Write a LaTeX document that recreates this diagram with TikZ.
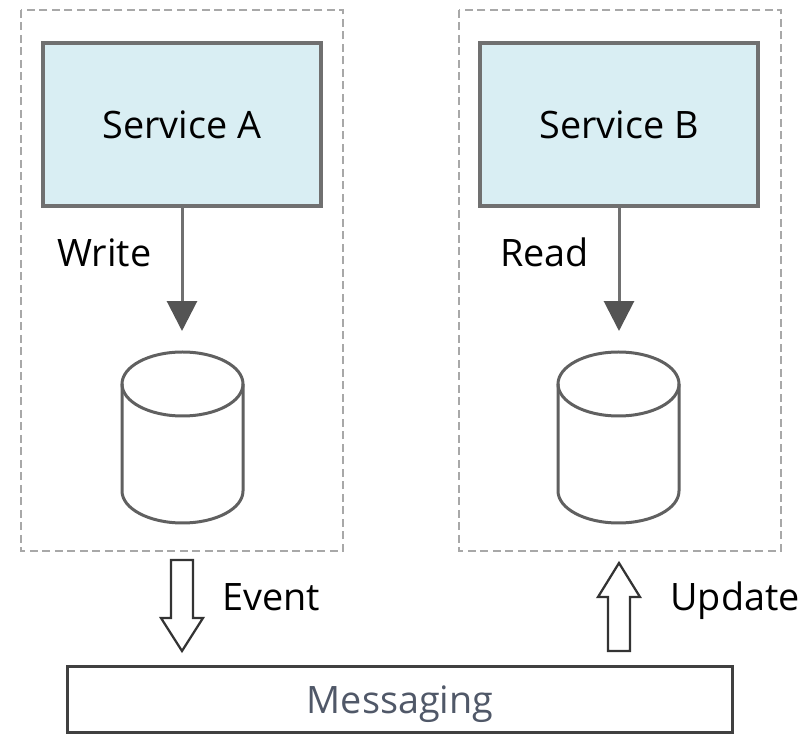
\documentclass[tikz,border=0pt]{standalone}
\usepackage{fontspec}
\setmainfont{Open Sans}
\usetikzlibrary{positioning, arrows.meta}

\definecolor{svcfill}{RGB}{217,238,243}
\definecolor{svcline}{RGB}{112,112,112}
\definecolor{zoneline}{RGB}{168,168,168}
\definecolor{dbline}{RGB}{96,96,96}
\definecolor{msgtext}{RGB}{80,88,104}

\tikzset{
  dbcyl/.pic={
    \draw[dbline, line width=0.06cm] (-60.5,0) -- (-60.5,107)
      arc[start angle=180, end angle=0, x radius=60.5, y radius=32] -- (60.5,0);
    \draw[dbline, line width=0.06cm] (0,0) ellipse [x radius=60.5, y radius=32];
  }
}

\begin{document}
\begin{tikzpicture}[x=0.02cm, y=-0.02cm,
  font=\fontsize{21.5}{25}\selectfont,
  zone/.style={draw=zoneline, line width=0.055cm, dash pattern=on 0.16cm off 0.09cm},
  svc/.style={draw=svcline, fill=svcfill, line width=0.07cm,
    minimum width=5.56cm, minimum height=3.26cm, inner sep=0pt},
  flow/.style={draw=svcline, line width=0.06cm,
    -{Triangle[length=0.6cm, width=0.6cm, color=black!67]}, shorten >=0.42cm},
  lbl/.style={anchor=base west, inner sep=0pt},
  hollow/.style={draw=black!80, line width=0.045cm, fill=white, line join=miter},
  msg/.style={draw=black!75, line width=0.06cm, minimum width=13.32cm,
    minimum height=1.34cm, inner sep=0pt, text depth=0pt, text=msgtext}]
  \useasboundingbox (0,0) rectangle (809,736);

  % bounded contexts
  \draw[zone] (21,10) rectangle (343,551);
  \draw[zone] (459,10) rectangle (781,551);

  % services
  \node[svc] (svcA) at (182,124.5) {Service A};
  \node[svc] (svcB) at (619,124.5) {Service B};

  % stores
  \pic at (182.5,384) {dbcyl};
  \pic at (618.5,384) {dbcyl};
  \coordinate (dbA) at (182,352);
  \coordinate (dbB) at (619,352);

  \draw[flow] (svcA.south) -- (dbA);
  \draw[flow] (svcB.south) -- (dbB);
  \node[lbl] (write) at (57,267) {Write};
  \node[lbl] (read) at (500,267) {Read};

  % bus
  \node[msg] (bus) at (400,699.5) {Messaging};

  \coordinate (evt) at (182,560);
  \coordinate (upd) at (619,651);
  \draw[hollow] (evt) ++(-11,0) -- ++(22,0) -- ++(0,58) -- ++(10,0)
    -- ++(-21,33) -- ++(-21,-33) -- ++(10,0) -- cycle;
  \draw[hollow] (upd) ++(-11,0) -- ++(22,0) -- ++(0,-54) -- ++(10,0)
    -- ++(-21,-34) -- ++(-21,34) -- ++(10,0) -- cycle;
  \node[lbl] (event) at (222,611) {Event};
  \node[lbl] (update) at (670,611) {Update};
\end{tikzpicture}
\end{document}
